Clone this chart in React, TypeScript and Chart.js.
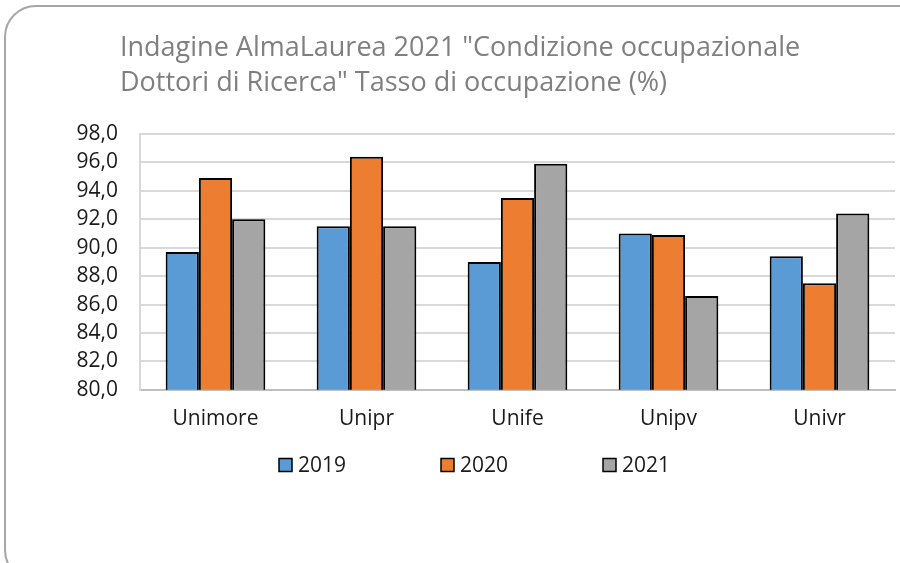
import React, { useEffect, useRef } from "react";
import { Chart, registerables } from "chart.js";

Chart.register(...registerables);

const categories = ["Unimore", "Unipr", "Unife", "Unipv", "Univr"];
const seriesNames = ["2019", "2020", "2021"];
const values2019 = [89.7, 91.5, 89.0, 91.0, 89.4];
const values2020 = [94.9, 96.4, 93.5, 90.9, 87.5];
const values2021 = [92.0, 91.5, 95.9, 86.6, 92.4];
const seriesColors = ["#5B9BD5", "#ED7D31", "#A5A5A5"];
const titleLines = [
  'Indagine AlmaLaurea 2021 "Condizione occupazionale',
  'Dottori di Ricerca" Tasso di occupazione (%)',
];
const yMin = 80;
const yMax = 98;
const yStep = 2;

const FONT = '"Open Sans", "Noto Sans", sans-serif';

const titlePlugin = {
  id: "customTitle",
  afterDraw(chart: any) {
    const ctx = chart.ctx;
    ctx.save();
    ctx.fillStyle = "#7F7F7F";
    ctx.font = `400 27px ${FONT}`;
    ctx.textAlign = "left";
    ctx.textBaseline = "middle";
    titleLines.forEach((line, i) => {
      ctx.fillText(line, 120, 48 + i * 35);
    });
    ctx.restore();
  },
};

const legendPlugin = {
  id: "customLegend",
  afterDraw(chart: any) {
    const ctx = chart.ctx;
    const area = chart.chartArea;
    ctx.save();
    ctx.font = `21px ${FONT}`;
    ctx.textBaseline = "middle";
    ctx.textAlign = "left";
    const y = 465;
    chart.data.datasets.forEach((ds: any, i: number) => {
      const x = area.left + 139 + i * 162;
      ctx.fillStyle = ds.backgroundColor;
      ctx.fillRect(x, y - 6.5, 13, 13);
      ctx.strokeStyle = "#000";
      ctx.lineWidth = 1.5;
      ctx.strokeRect(x, y - 6.5, 13, 13);
      ctx.fillStyle = "#1A1A1A";
      ctx.fillText(ds.label, x + 19, y + 1);
    });
    ctx.restore();
  },
};

export default function App() {
  const canvasRef = useRef<HTMLCanvasElement | null>(null);

  useEffect(() => {
    if (!canvasRef.current) return;
    const seriesValues = [values2019, values2020, values2021];
    const chart = new Chart(canvasRef.current, {
      type: "bar",
      data: {
        labels: categories,
        datasets: seriesNames.map((name, i) => ({
          label: name,
          data: seriesValues[i],
          backgroundColor: seriesColors[i],
          borderColor: "#000000",
          borderWidth: 2,
          barPercentage: 1,
          categoryPercentage: 0.66,
        })),
      },
      options: {
        animation: false,
        responsive: false,
        maintainAspectRatio: false,
        layout: { padding: { left: 60, right: 5, top: 134, bottom: 114 } },
        plugins: {
          legend: { display: false },
          title: { display: false },
          tooltip: { enabled: false },
        },
        scales: {
          x: {
            grid: { display: false, drawTicks: false },
            border: { display: true, color: "#BFBFBF", width: 2 },
            ticks: {
              color: "#1A1A1A",
              font: { family: FONT, size: 21 },
              padding: 17,
            },
          },
          y: {
            min: yMin,
            max: yMax,
            afterFit(scale: any) {
              scale.width = 80;
            },
            grid: { color: "#D9D9D9", lineWidth: 2, drawTicks: false },
            border: { display: true, color: "#D9D9D9", width: 2 },
            ticks: {
              stepSize: yStep,
              color: "#1A1A1A",
              padding: 22,
              font: { family: FONT, size: 21 },
              callback: (v: any) => Number(v).toFixed(1).replace(".", ","),
            },
          },
        },
      },
      plugins: [titlePlugin, legendPlugin],
    });
    return () => chart.destroy();
  }, []);

  return (
    <div
      style={{
        position: "fixed",
        left: 0,
        top: 0,
        width: 900,
        height: 563,
        background: "#fff",
        overflow: "hidden",
      }}
    >
      <div
        style={{
          position: "absolute",
          left: 4,
          top: 5,
          width: 1000,
          height: 577,
          border: "2px solid #A6A6A6",
          borderRadius: 32,
          boxSizing: "border-box",
        }}
      />
      <canvas
        ref={canvasRef}
        width={900}
        height={563}
        style={{ position: "absolute", left: 0, top: 0, width: 900, height: 563 }}
      />
    </div>
  );
}
